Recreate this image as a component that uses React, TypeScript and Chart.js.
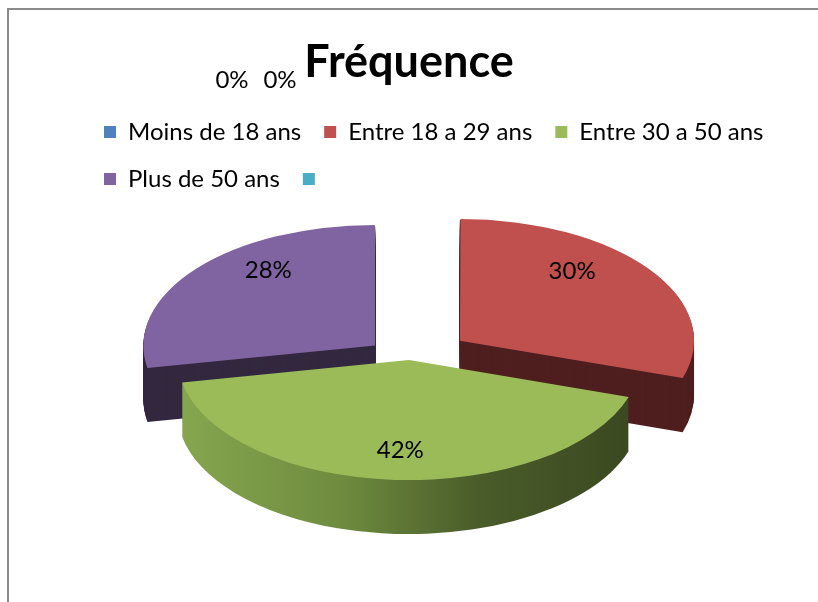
import React, { useEffect, useRef } from 'react';
import { Chart, registerables } from 'chart.js';

Chart.register(...registerables);

const TITLE = 'Fréquence';
const categories = ['Moins de 18 ans', 'Entre 18 a 29 ans', 'Entre 30 a 50 ans', 'Plus de 50 ans', ''];
const values = [0, 30, 42, 28, 0];
// Chart.js arc offset units (explosion)
const explode = [0, 252, 0, 176, 0];
const topColors = ['#4F81BD', '#C0504D', '#9BBB59', '#8064A2', '#4BACC6'];
const sideColors = ['#2C4D75', '#4F1F1F', '#5E7A34', '#33283F', '#276A7C'];
const greenSideStops: [number, string][] = [
  [0, '#86A64F'],
  [0.35, '#6F8C3F'],
  [0.65, '#4A5C2A'],
  [1, '#3A4720'],
];

const FONT = 'Lato, "Open Sans", sans-serif';
const TILT = 0.52;
const DEPTH = 54;
const RADIUS = 231;
const SPACER = 64;
const LABEL_FX = 0.6;
const LABEL_FY_BACK = 0.98;
const LABEL_FY_FRONT = 0.75;

const spacerPlugin = {
  id: 'rightSpacer',
  beforeInit(chart: any) {
    const box: any = {
      position: 'right',
      weight: 0,
      fullSize: false,
      options: {},
      width: 0,
      height: 0,
      left: 0,
      top: 0,
      right: 0,
      bottom: 0,
      isHorizontal() {
        return false;
      },
      update(_w: number, h: number) {
        this.width = SPACER;
        this.height = h;
      },
      draw() {},
    };
    if (!chart.boxes) chart.boxes = [];
    box._layers = () => [{ z: 0, draw() {} }];
    chart.boxes.push(box);
  },
};

const pie3dPlugin = {
  id: 'pie3d',
  beforeDatasetsDraw(chart: any) {
    const ctx: CanvasRenderingContext2D = chart.ctx;
    const meta = chart.getDatasetMeta(0);
    const arcs: any[] = meta.data;
    ctx.save();
    if (!arcs.length) return;
    const cx = arcs[0].x;
    const cy = arcs[0].y;
    ctx.translate(cx, cy);
    ctx.scale(1, TILT);
    ctx.translate(-cx, -cy);
    const items = arcs
      .map((a, i) => ({ a, i, mid: (a.startAngle + a.endAngle) / 2 }))
      .filter((o) => o.a.circumference > 0);
    items.sort((p, q) => Math.sin(p.mid) - Math.sin(q.mid));
    for (const { a, i, mid } of items) {
      const off = (a.options.offset || 0) / 4;
      const fix = 1 - Math.sin(Math.min(Math.PI, a.circumference));
      const r = a.outerRadius + off * fix;
      const x = a.x + Math.cos(mid) * off;
      const y = a.y + Math.sin(mid) * off;
      let fill: any = sideColors[i];
      if (i === 2) {
        const g = ctx.createLinearGradient(x - r, 0, x + r, 0);
        greenSideStops.forEach(([s, c]) => g.addColorStop(s, c));
        fill = g;
      }
      ctx.fillStyle = fill;
      for (let d = DEPTH; d >= 1; d -= 1) {
        const yy = y + d / TILT;
        ctx.beginPath();
        ctx.moveTo(x, yy);
        ctx.arc(x, yy, r, a.startAngle, a.endAngle);
        ctx.closePath();
        ctx.fill();
      }
    }
  },
  afterDatasetsDraw(chart: any) {
    const ctx: CanvasRenderingContext2D = chart.ctx;
    ctx.restore();
    const meta = chart.getDatasetMeta(0);
    const arcs: any[] = meta.data;
    const data: number[] = chart.data.datasets[0].data;
    const total = data.reduce((s, v) => s + v, 0);
    ctx.save();
    ctx.font = `24px ${FONT}`;
    ctx.fillStyle = '#000';
    ctx.textAlign = 'center';
    ctx.textBaseline = 'middle';
    let zeroIdx = 0;
    arcs.forEach((a, i) => {
      const v = data[i];
      const pct = `${Math.round((v / total) * 100)}%`;
      if (v === 0) {
        // zero-size slices: labels pushed out above the pie, to the left of the title
        ctx.fillText(pct, 232 + zeroIdx * 48, 80);
        zeroIdx++;
        return;
      }
      const mid = (a.startAngle + a.endAngle) / 2;
      const off = (a.options.offset || 0) / 4;
      const s = Math.sin(mid);
      const fy = s < 0 ? LABEL_FY_BACK : LABEL_FY_FRONT;
      const x = a.x + Math.cos(mid) * (off + a.outerRadius * LABEL_FX);
      const y = a.y + s * (off + a.outerRadius * fy) * TILT;
      ctx.fillText(pct, x, y);
    });
    ctx.restore();
  },
};

export default function App() {
  const ref = useRef<HTMLCanvasElement | null>(null);

  useEffect(() => {
    if (!ref.current) return;
    const chart = new Chart(ref.current, {
      type: 'pie',
      data: {
        labels: categories,
        datasets: [
          {
            data: values,
            backgroundColor: topColors,
            borderWidth: 0,
            offset: explode,
            hoverOffset: 0,
            clip: false,
          } as any,
        ],
      },
      options: {
        responsive: false,
        animation: false,
        devicePixelRatio: 1,
        radius: RADIUS,
        layout: { padding: { left: 81, right: 17, top: 0, bottom: 83 } },
        events: [],
        plugins: {
          title: {
            display: true,
            text: TITLE,
            color: '#000',
            fullSize: false,
            font: { family: FONT, size: 45, weight: 'bold' },
            padding: { top: 35, bottom: 8 },
          },
          legend: {
            display: true,
            position: 'top',
            align: 'start',
            labels: {
              color: '#000',
              font: { family: FONT, size: 24 },
              boxWidth: 12,
              boxHeight: 12,
              padding: 23,
            },
          },
          tooltip: { enabled: false },
        },
      } as any,
      plugins: [spacerPlugin, pie3dPlugin],
    });
    return () => chart.destroy();
  }, []);

  return (
    <div
      style={{
        position: 'fixed',
        left: 0,
        top: 0,
        width: 818,
        height: 602,
        overflow: 'hidden',
        background: '#fff',
      }}
    >
      <div
        style={{
          position: 'absolute',
          left: 7,
          top: 8,
          width: 900,
          height: 700,
          borderLeft: '2px solid #8A8A8A',
          borderTop: '2px solid #8A8A8A',
        }}
      />
      <canvas
        ref={ref}
        width={818}
        height={602}
        style={{ position: 'absolute', left: 0, top: 0, width: 818, height: 602 }}
      />
    </div>
  );
}
